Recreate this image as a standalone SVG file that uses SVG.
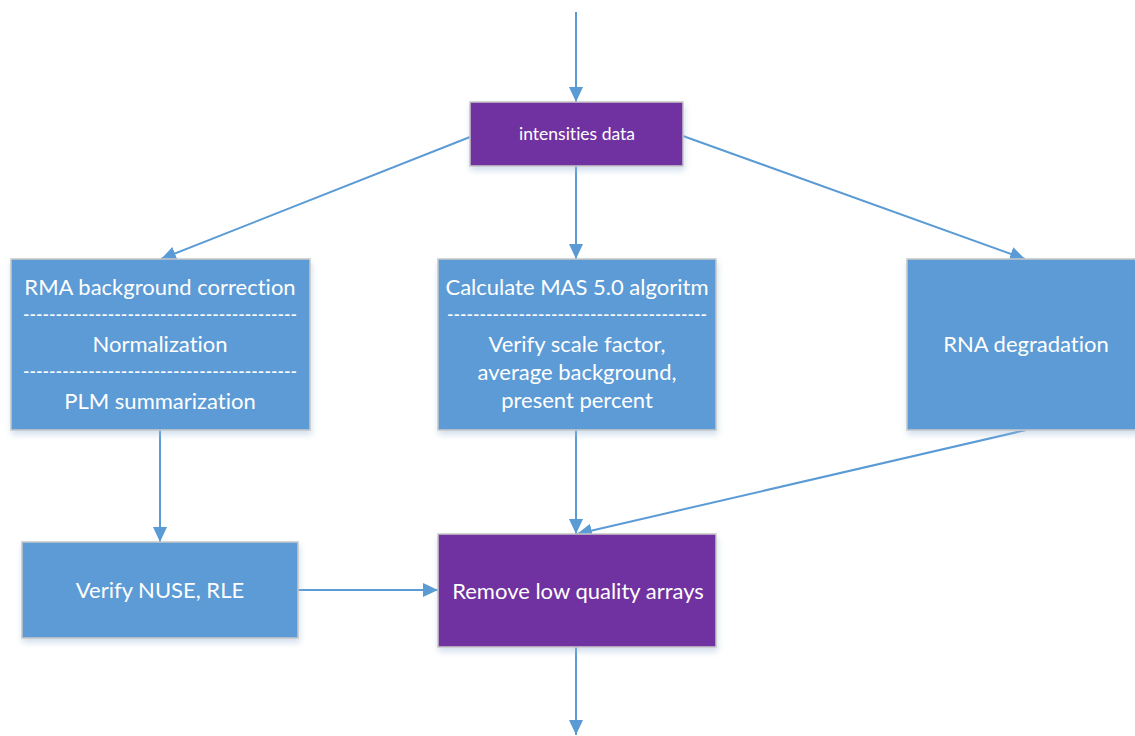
<svg xmlns="http://www.w3.org/2000/svg" width="1135" height="736" viewBox="0 0 1135 736">
  <defs>
    <filter id="shadow" x="-10%" y="-10%" width="120%" height="130%">
      <feDropShadow dx="1" dy="4" stdDeviation="3" flood-color="#9DB8D6" flood-opacity="0.45"/>
    </filter>
    <marker id="arrow" viewBox="0 0 15 14" refX="15" refY="7" markerWidth="15" markerHeight="14" markerUnits="userSpaceOnUse" orient="auto">
      <path d="M0,0 L15,7 L0,14 Z" fill="#5B9BD5"/>
    </marker>
  </defs>
  <style>
    .box { stroke: #C8C8C8; stroke-width: 1.5; filter: url(#shadow); }
    .blue { fill: #5B9BD5; }
    .purple { fill: #7030A0; }
    .lbl { font-family: Lato, "Liberation Sans", sans-serif; font-size: 22px; fill: #FFFFFF; text-anchor: middle; font-variant-ligatures: none; }
    .small { font-size: 17.5px; }
    .link { fill: none; stroke: #5B9BD5; stroke-width: 2; marker-end: url(#arrow); }
  </style>

  <rect width="1135" height="736" fill="#FFFFFF"/>

  <!-- connectors -->
  <g id="connectors">
    <line class="link" x1="576" y1="12" x2="576" y2="102"/>
    <line class="link" x1="470" y1="137" x2="161" y2="259"/>
    <line class="link" x1="576" y1="166" x2="576" y2="259"/>
    <line class="link" x1="683" y1="136" x2="1025" y2="259"/>
    <line class="link" x1="160" y1="430" x2="160" y2="542"/>
    <line class="link" x1="576" y1="430" x2="576" y2="534"/>
    <line class="link" x1="1026" y1="430" x2="577" y2="534"/>
    <line class="link" x1="298" y1="590" x2="438" y2="590"/>
    <line class="link" x1="576" y1="647" x2="576" y2="735"/>
  </g>

  <!-- intensities data -->
  <g id="node-intensities">
    <rect class="box purple" x="470" y="102" width="213" height="64"/>
    <text class="lbl small" x="577" y="140">intensities data</text>
  </g>

  <!-- RMA pipeline -->
  <g id="node-rma">
    <rect class="box blue" x="11" y="259" width="299" height="171"/>
    <text class="lbl" x="160" y="295">RMA background correction</text>
    <text class="lbl" x="160" y="322" textLength="274" lengthAdjust="spacingAndGlyphs">------------------------------------------</text>
    <text class="lbl" x="160" y="352">Normalization</text>
    <text class="lbl" x="160" y="379" textLength="274" lengthAdjust="spacingAndGlyphs">------------------------------------------</text>
    <text class="lbl" x="160" y="409">PLM summarization</text>
  </g>

  <!-- MAS 5.0 -->
  <g id="node-mas5">
    <rect class="box blue" x="438" y="259" width="278" height="171"/>
    <text class="lbl" x="577" y="295">Calculate MAS 5.0 algoritm</text>
    <text class="lbl" x="577" y="322" textLength="260" lengthAdjust="spacingAndGlyphs">----------------------------------------</text>
    <text class="lbl" x="577" y="352">Verify scale factor,</text>
    <text class="lbl" x="577" y="380">average background,</text>
    <text class="lbl" x="577" y="408">present percent</text>
  </g>

  <!-- RNA degradation -->
  <g id="node-rna">
    <rect class="box blue" x="907" y="259" width="238" height="171"/>
    <text class="lbl" x="1026" y="352">RNA degradation</text>
  </g>

  <!-- NUSE / RLE -->
  <g id="node-nuse">
    <rect class="box blue" x="22" y="542" width="276" height="96"/>
    <text class="lbl" x="160" y="598">Verify NUSE, RLE</text>
  </g>

  <!-- filtering step -->
  <g id="node-remove">
    <rect class="box purple" x="438" y="534" width="278" height="113"/>
    <text class="lbl" x="578" y="599">Remove low quality arrays</text>
  </g>
</svg>
